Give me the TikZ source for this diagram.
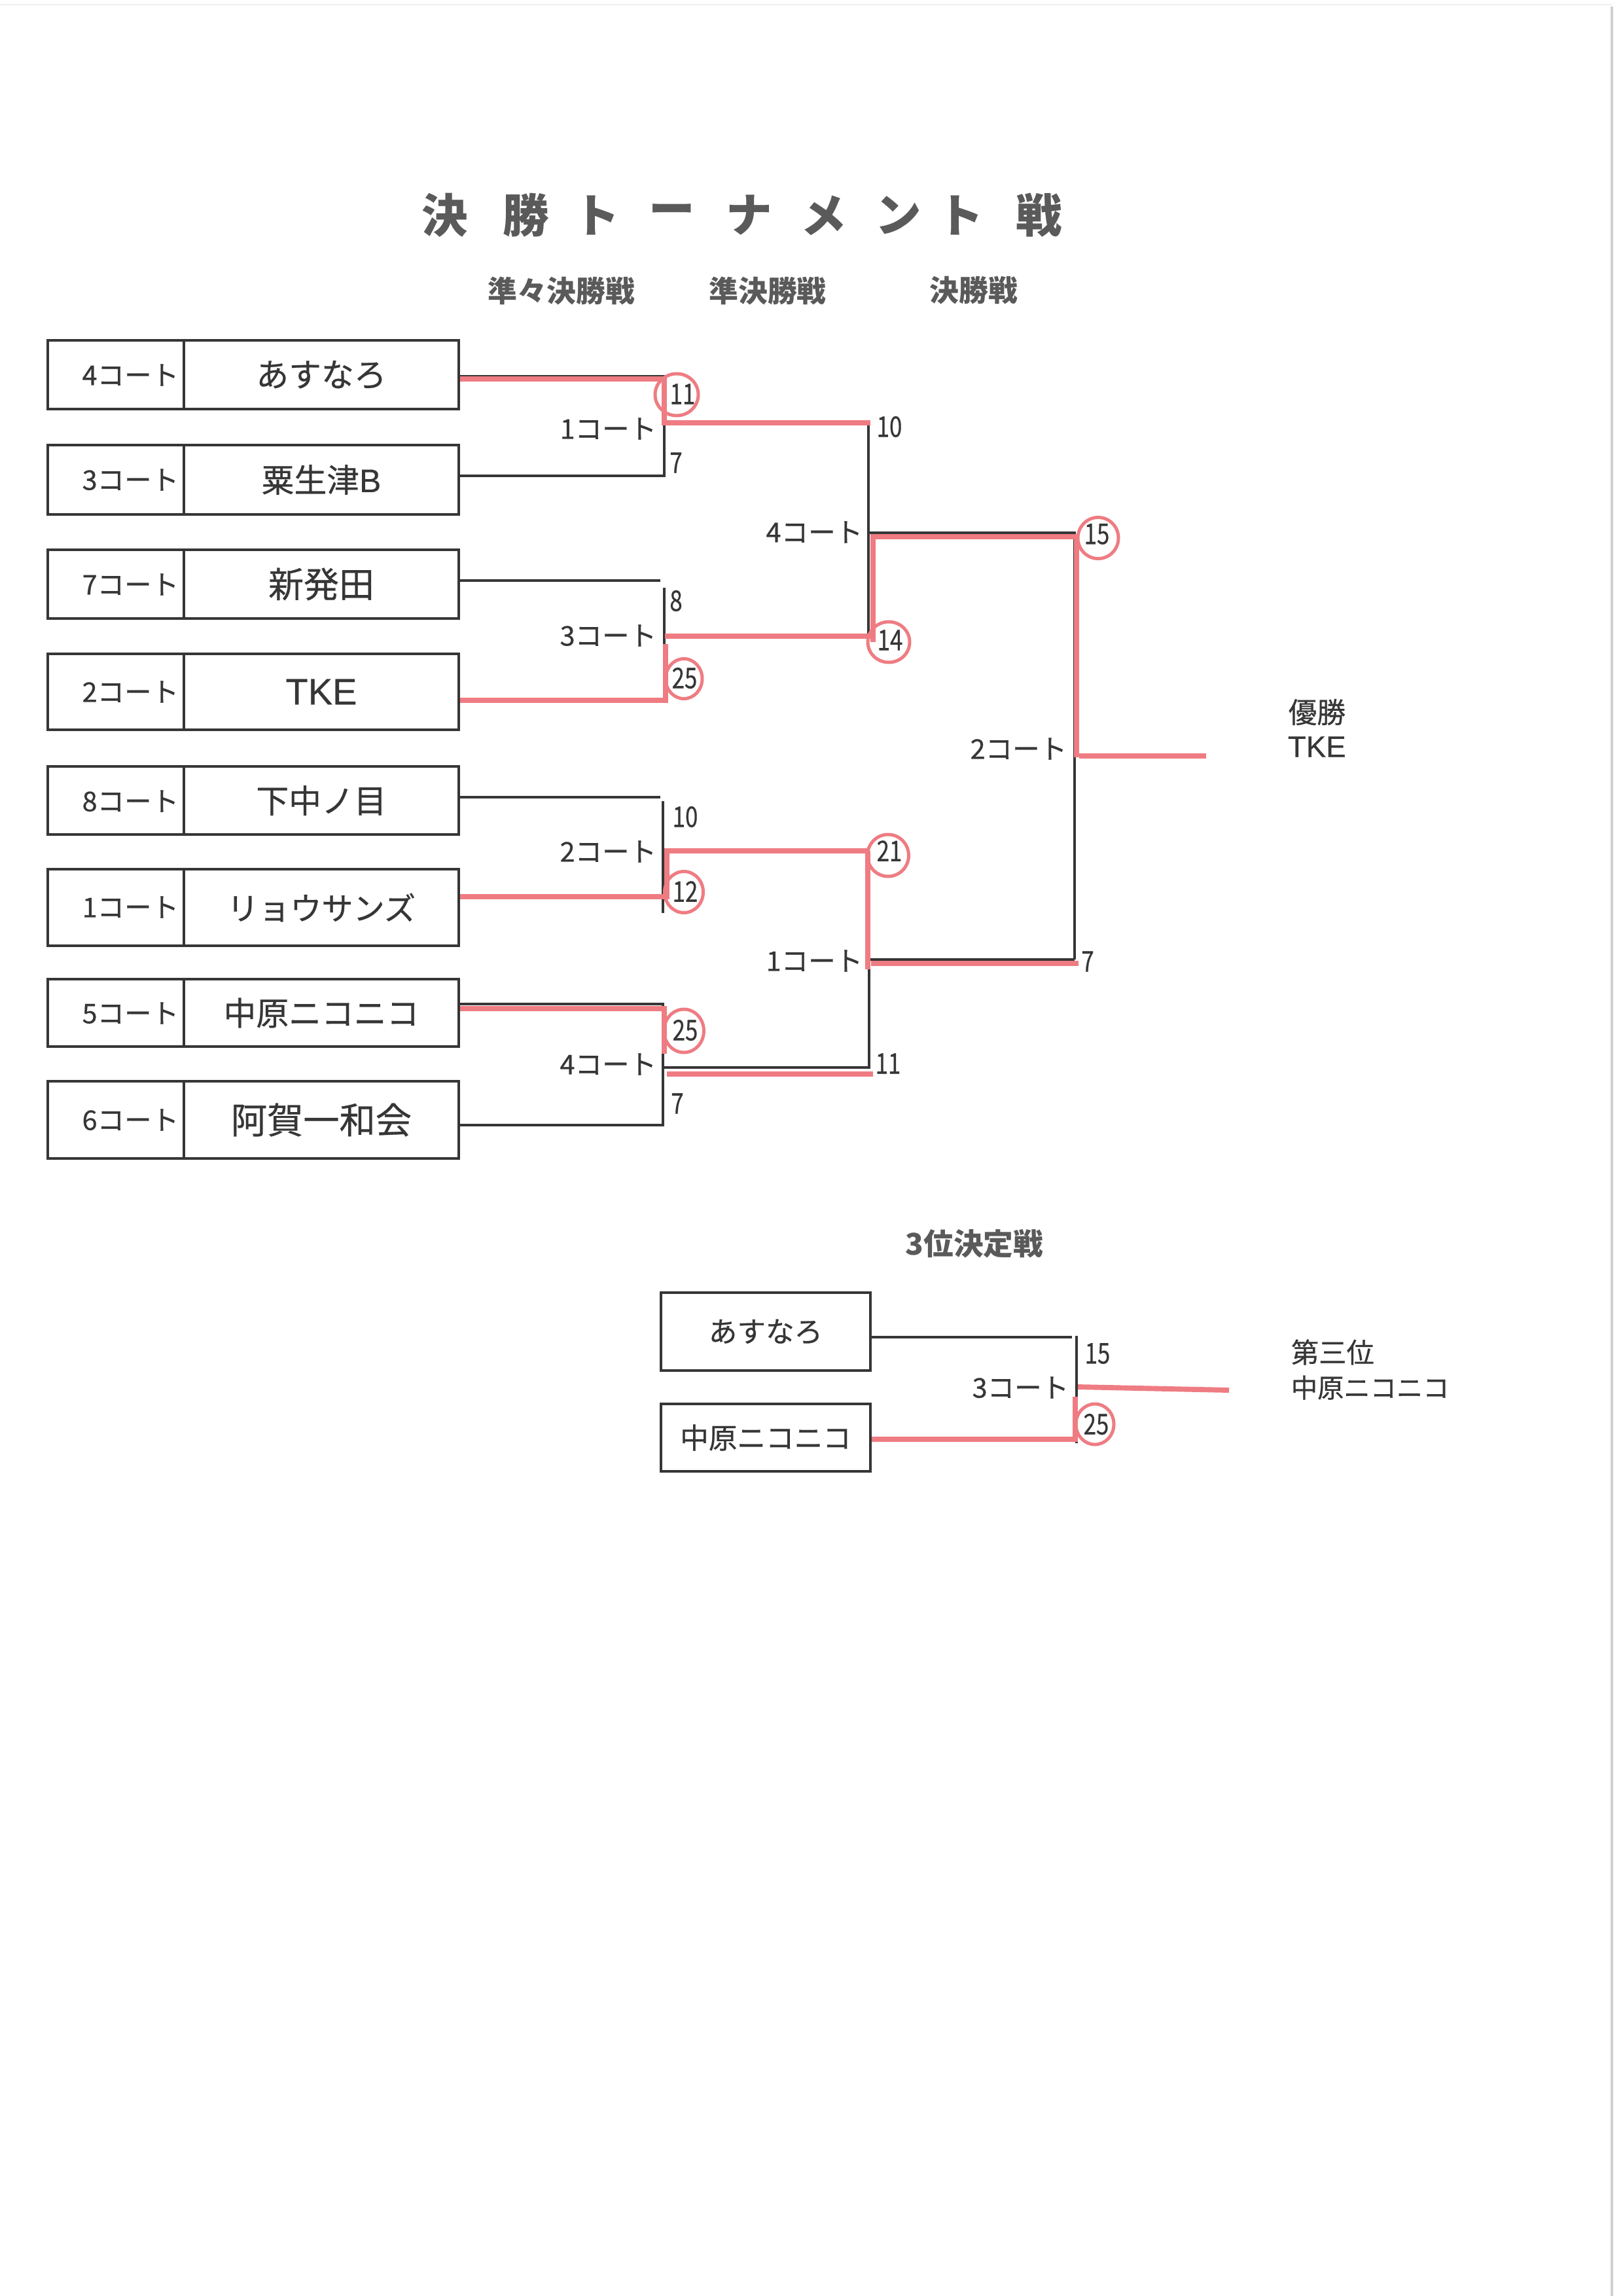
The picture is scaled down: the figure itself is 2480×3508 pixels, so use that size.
\documentclass[tikz,border=0pt]{standalone}
\usepackage{fontspec}
\setmainfont{Noto Sans CJK JP}[UprightFeatures={FakeBold=0.5}]
\newfontfamily\latin{Liberation Sans}[UprightFeatures={FakeBold=0.4}]
\usetikzlibrary{shapes.geometric}
\newlength\pxl
\setlength\pxl{0.0846774mm}
\definecolor{ink}{HTML}{363636}
\definecolor{titlec}{HTML}{5A5A5A}
\definecolor{hl}{RGB}{238,124,130}
\definecolor{edgec}{HTML}{D0D0D0}
\begin{document}
\begin{tikzpicture}[x=0.0846774mm, y=-0.0846774mm,
  cellbox/.style={draw=ink, line width=0.95pt, inner sep=0pt, text=ink, font=\fontsize{12}{14}\selectfont},
  courtlbl/.style={anchor=east, inner sep=0pt, text=ink, font=\fontsize{10}{12}\selectfont},
  score/.style={inner sep=0pt, text=ink, font=\fontsize{10.5}{12}\selectfont, xscale=0.8},
  bline/.style={draw=ink, line width=0.75pt},
  rline/.style={draw=hl, line width=1.9pt, line join=miter},
  rcirc/.style={ellipse, draw=hl, line width=1.2pt, inner sep=0pt},
  hdr/.style={inner sep=0pt, text=titlec, font=\bfseries\fontsize{10.8}{13}\selectfont},
  ttl/.style={inner sep=0pt, text=titlec, font=\bfseries\fontsize{17}{20}\selectfont},
  plain/.style={inner sep=0pt, text=ink, font=\fontsize{10.5}{12}\selectfont}
]
\useasboundingbox (0,0) rectangle (2480,3508);
\fill[white] (0,0) rectangle (2480,3508);
\draw[draw=edgec, line width=0.8pt] (2463,10) -- (2463,3508);
\draw[draw=black!6, line width=0.6pt] (0,7) -- (2463,7);

% ---- title ----
\node[ttl] (t1) at (680,329) {決};
\node[ttl] (t2) at (804,329) {勝};
\node[ttl] (t3) at (912,329) {ト};
\node[ttl] (t4) at (1027,329) {ー};
\node[ttl] (t5) at (1145,329) {ナ};
\node[ttl] (t6) at (1259,329) {メ};
\node[ttl] (t7) at (1373,329) {ン};
\node[ttl] (t8) at (1468,329) {ト};
\node[ttl] (t9) at (1588,329) {戦};

\node[hdr] (h1) at (858,444) {準々決勝戦};
\node[hdr] (h2) at (1173,444) {準決勝戦};
\node[hdr] (h3) at (1488,444) {決勝戦};

% ---- team boxes ----
\node[cellbox, minimum width=208*\pxl, minimum height=105*\pxl] (c1) at (177,572.5) {};
\node[cellbox, minimum width=420*\pxl, minimum height=105*\pxl] (n1) at (491,572.5) {あすなろ};
\node[courtlbl] (l1) at (274,573) {4コート};

\node[cellbox, minimum width=208*\pxl, minimum height=106*\pxl] (c2) at (177,733) {};
\node[cellbox, minimum width=420*\pxl, minimum height=106*\pxl] (n2) at (491,733) {粟生津{\latin B}};
\node[courtlbl] (l2) at (274,733) {3コート};

\node[cellbox, minimum width=208*\pxl, minimum height=105*\pxl] (c3) at (177,892.5) {};
\node[cellbox, minimum width=420*\pxl, minimum height=105*\pxl, font=\fontsize{13}{15}\selectfont] (n3) at (491,892.5) {新発田};
\node[courtlbl] (l3) at (274,893) {7コート};

\node[cellbox, minimum width=208*\pxl, minimum height=116*\pxl] (c4) at (177,1057) {};
\node[cellbox, minimum width=420*\pxl, minimum height=116*\pxl, font=\latin\fontsize{13.5}{15}\selectfont] (n4) at (491,1057) {TKE};
\node[courtlbl] (l4) at (274,1057) {2コート};

\node[cellbox, minimum width=208*\pxl, minimum height=104*\pxl] (c5) at (177,1223) {};
\node[cellbox, minimum width=420*\pxl, minimum height=104*\pxl] (n5) at (491,1223) {下中ノ目};
\node[courtlbl] (l5) at (274,1224) {8コート};

\node[cellbox, minimum width=208*\pxl, minimum height=117*\pxl] (c6) at (177,1386.5) {};
\node[cellbox, minimum width=420*\pxl, minimum height=117*\pxl, font=\fontsize{11.6}{14}\selectfont] (n6) at (491,1386.5) {リョウサンズ};
\node[courtlbl] (l6) at (274,1386) {1コート};

\node[cellbox, minimum width=208*\pxl, minimum height=103*\pxl] (c7) at (177,1547.5) {};
\node[cellbox, minimum width=420*\pxl, minimum height=103*\pxl] (n7) at (491,1547.5) {中原ニコニコ};
\node[courtlbl] (l7) at (274,1548) {5コート};

\node[cellbox, minimum width=208*\pxl, minimum height=118*\pxl] (c8) at (177,1711) {};
\node[cellbox, minimum width=420*\pxl, minimum height=118*\pxl, font=\fontsize{13.3}{15}\selectfont] (n8) at (491,1711) {阿賀一和会};
\node[courtlbl] (l8) at (274,1711) {6コート};

% ---- bracket coordinates ----
\coordinate (m1t) at (1015,575);
\coordinate (m1b) at (1015,727);
\coordinate (m1m) at (1015,648);
\coordinate (m2e) at (1009,887);
\coordinate (m2t) at (1015,898);
\coordinate (m2b) at (1015,1070);
\coordinate (m2m) at (1015,972);
\coordinate (q1t) at (1327,648);
\coordinate (q1b) at (1327,977);
\coordinate (q1m) at (1327,814);
\coordinate (ft) at (1642,814);
\coordinate (fb) at (1642,1466);
\coordinate (m3e) at (1009,1218);
\coordinate (m3t) at (1013,1224);
\coordinate (m3b) at (1013,1395);
\coordinate (m3r) at (1013,1370);
\coordinate (m3m) at (1013,1300);
\coordinate (m4t) at (1013,1534);
\coordinate (m4b) at (1013,1719);
\coordinate (m4m) at (1013,1631);
\coordinate (q2t) at (1328,1300);
\coordinate (q2b) at (1328,1633);
\coordinate (q2m) at (1328,1466);

% ---- black bracket lines ----
\draw[bline] (n1.east |- m1t) -- (m1t) -- (m1b) -- (n2.east |- m1b);
\draw[bline] (m1m) -- (q1t);
\draw[bline] (n3.east |- m2e) -- (m2e);
\draw[bline] (m2t) -- (m2b) -- (n4.east |- m2b);
\draw[bline] (m2m) -- (q1b |- m2m);
\draw[bline] (q1t) -- (q1b);
\draw[bline] (q1m) -- (ft) -- (fb);
\draw[bline] (n5.east |- m3e) -- (m3e);
\draw[bline] (m3t) -- (m3b);
\draw[bline] (n6.east |- m3r) -- (m3r);
\draw[bline] (m3m) -- (q2t);
\draw[bline] (n7.east |- m4t) -- (m4t) -- (m4b) -- (n8.east |- m4b);
\draw[bline] (m4m) -- (q2b |- m4m);
\draw[bline] (q2t) -- (q2b);
\draw[bline] (q2m) -- (fb);

% ---- red winner lines ----
\coordinate (r1a) at (1015,579);
\coordinate (r1b) at (1015,646);
\coordinate (r1c) at (1330,646);
\draw[rline] (n1.east |- r1a) -- (r1a) -- (r1b) -- (r1c);

\coordinate (r2a) at (1017,1070);
\coordinate (r2b) at (1017,984);
\coordinate (r2c) at (1016,972);
\coordinate (r2d) at (1330,972);
\draw[rline] (n4.east |- r2a) -- (r2a) -- (r2b);
\draw[rline] (r2c) -- (r2d);

\coordinate (r3a) at (1334,981);
\coordinate (r3b) at (1334,820);
\coordinate (r3c) at (1645,820);
\coordinate (r3d) at (1645,1157);
\coordinate (r3e) at (1649,1155);
\coordinate (win) at (1843,1155);
\draw[rline] (r3a) -- (r3b) -- (r3c) -- (r3d);
\draw[rline] (r3e) -- (win);

\coordinate (r4a) at (1019,1370);
\coordinate (r4b) at (1019,1300);
\coordinate (r4c) at (1328,1300);
\draw[rline] (n6.east |- r4a) -- (r4a) -- (r4b) -- (r4c);

\coordinate (r5a) at (1326,1300);
\coordinate (r5b) at (1326,1481);
\coordinate (r5c) at (1331,1472);
\coordinate (r5d) at (1648,1472);
\draw[rline] (r5a) -- (r5b);
\draw[rline] (r5c) -- (r5d);

\coordinate (r6a) at (1015,1541);
\coordinate (r6b) at (1015,1610);
\coordinate (r6c) at (1019,1641);
\coordinate (r6d) at (1334,1641);
\draw[rline] (n7.east |- r6a) -- (r6a) -- (r6b);
\draw[rline] (r6c) -- (r6d);

% ---- court labels on bracket ----
\node[courtlbl] (k1) at (1004,655) {1コート};
\node[courtlbl] (k2) at (1004,971) {3コート};
\node[courtlbl] (k3) at (1004,1301) {2コート};
\node[courtlbl] (k4) at (1004,1626) {4コート};
\node[courtlbl] (k5) at (1319,813) {4コート};
\node[courtlbl] (k6) at (1319,1468) {1コート};
\node[courtlbl] (k7) at (1631,1144) {2コート};

% ---- scores ----
\node[score] (s1) at (1043,602) {11};
\node[score] (s2) at (1033,707) {7};
\node[score] (s3) at (1033,918) {8};
\node[score] (s4) at (1046,1036) {25};
\node[score] (s5) at (1359,652) {10};
\node[score] (s6) at (1360,978) {14};
\node[score] (s7) at (1676,816) {15};
\node[score] (s8) at (1047,1248) {10};
\node[score] (s9) at (1047,1362) {12};
\node[score] (s10) at (1359,1300) {21};
\node[score] (s11) at (1047,1574) {25};
\node[score] (s12) at (1035,1686) {7};
\node[score] (s13) at (1357,1625) {11};
\node[score] (s14) at (1662,1469) {7};

% ---- circles ----
\node[rcirc, minimum width=66*\pxl, minimum height=64*\pxl] (o1) at (1034,603) {};
\node[rcirc, minimum width=56*\pxl, minimum height=61*\pxl] (o2) at (1045,1037) {};
\node[rcirc, minimum width=64*\pxl, minimum height=62*\pxl] (o3) at (1358,981) {};
\node[rcirc, minimum width=62*\pxl, minimum height=63*\pxl] (o4) at (1678,822) {};
\node[rcirc, minimum width=59*\pxl, minimum height=63*\pxl] (o5) at (1045,1363) {};
\node[rcirc, minimum width=63*\pxl, minimum height=64*\pxl] (o6) at (1357,1307) {};
\node[rcirc, minimum width=61*\pxl, minimum height=66*\pxl] (o7) at (1045,1575) {};

% ---- champion ----
\node[plain, anchor=west] (w1) at (1968,1088) {優勝};
\node[plain, anchor=west, font=\latin\fontsize{11}{13}\selectfont] (w2) at (1967,1141) {TKE};

% ---- third place ----
\node[hdr, font=\bfseries\fontsize{11}{13}\selectfont] (h4) at (1489,1900) {3位決定戦};
\node[cellbox, minimum width=320*\pxl, minimum height=119*\pxl, font=\fontsize{10.5}{12}\selectfont] (p1) at (1170,2034.5) {あすなろ};
\node[cellbox, minimum width=320*\pxl, minimum height=103*\pxl, font=\fontsize{10.5}{12}\selectfont] (p2) at (1170,2196.5) {中原ニコニコ};
\coordinate (t1e) at (1638,2043);
\coordinate (tvt) at (1645,2041);
\coordinate (tvb) at (1645,2205);
\draw[bline] (p1.east |- t1e) -- (t1e);
\draw[bline] (tvt) -- (tvb);
\coordinate (t2a) at (1643,2199);
\coordinate (t2b) at (1643,2134);
\draw[rline] (p2.east |- t2a) -- (t2a) -- (t2b);
\coordinate (t3a) at (1647,2119);
\coordinate (t3b) at (1878,2124);
\draw[rline] (t3a) -- (t3b);
\node[courtlbl] (k8) at (1634,2120) {3コート};
\node[score] (s15) at (1677,2068) {15};
\node[score] (s16) at (1675,2176) {25};
\node[rcirc, minimum width=58*\pxl, minimum height=62*\pxl] (o8) at (1673,2176) {};
\node[plain, anchor=west, font=\fontsize{10.2}{12}\selectfont] (w3) at (1972,2066) {第三位};
\node[plain, anchor=west, font=\fontsize{9.7}{12}\selectfont] (w4) at (1972,2120) {中原ニコニコ};
\end{tikzpicture}
\end{document}
